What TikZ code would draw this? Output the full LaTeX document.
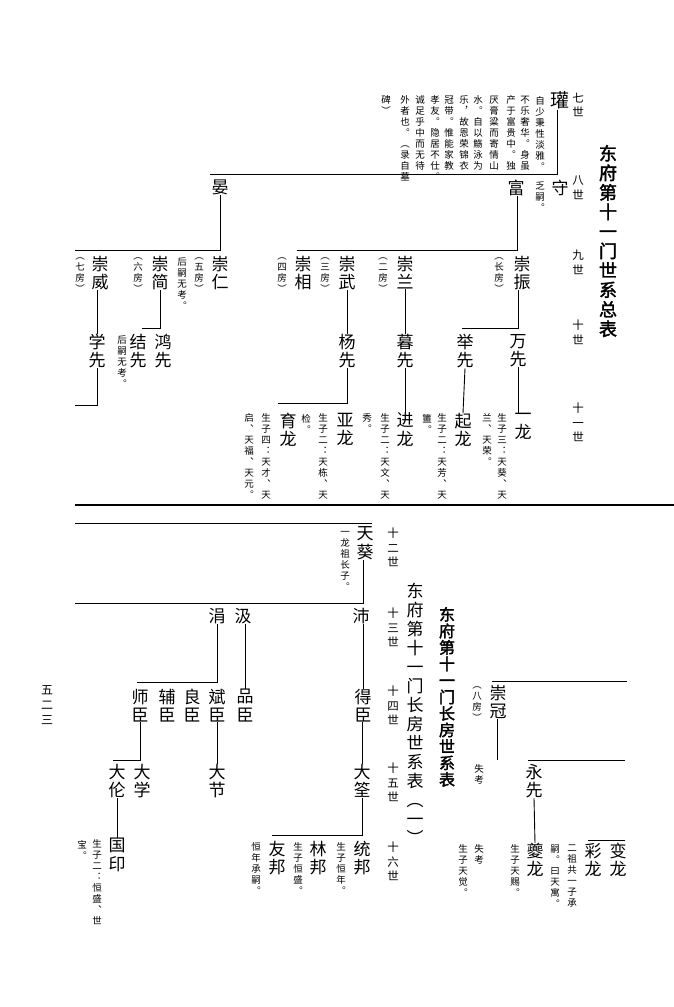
\documentclass[tikz,border=0pt]{standalone}
\usepackage{fontspec}
\setmainfont{Noto Sans CJK SC}
\newfontfamily\titlefont{Noto Sans CJK SC}[FakeBold=2]
\makeatletter
\newcommand\vstr[1]{\vbox{\@tfor\vch:=#1\do{\hbox to 1em{\hss\vch\hss}}}}
\makeatother

\tikzset{
  vcol/.style={anchor=north,inner sep=0pt,outer sep=0pt},
  big/.style={vcol,font=\fontsize{17}{18.5}\selectfont},
  note/.style={vcol,font=\fontsize{9.5}{11}\selectfont},
  gen/.style={vcol,font=\fontsize{11.5}{14.5}\selectfont},
  tree/.style={line width=0.9pt},
}

\begin{document}
\begin{tikzpicture}[x=1pt,y=-1pt]
  \useasboundingbox (0,0) rectangle (674,1007);

  % upper table
  \node[vcol,font=\titlefont\fontsize{18}{19.5}\selectfont] (title1) at (608,145) {\vstr{东府第十一门世系总表}};
  \node[gen] (g7) at (578,93) {\vstr{七世}};
  \node[gen] (g8) at (578,176) {\vstr{八世}};
  \node[gen] (g9) at (578,250) {\vstr{九世}};
  \node[gen] (g10) at (578,320) {\vstr{十世}};
  \node[gen] (g11) at (578,403) {\vstr{十一世}};

  \node[vcol,font=\fontsize{19}{20}\selectfont] (guan) at (560,92) {\vstr{瓘}};
  \node[note] (n1) at (540,96) {\vstr{自少秉性淡雅︒}};
  \node[note] (n2) at (525,96) {\vstr{不乐奢华︒身虽}};
  \node[note] (n3) at (511,96) {\vstr{产于富贵中︒独}};
  \node[note] (n4) at (494,96) {\vstr{厌膏粱而寄情山}};
  \node[note] (n5) at (478,96) {\vstr{水︒自以觞泳为}};
  \node[note] (n6) at (464,96) {\vstr{乐︐故恩荣锦衣}};
  \node[note] (n7) at (449,96) {\vstr{冠带︒惟能家教}};
  \node[note] (n8) at (435,96) {\vstr{孝友︒隐居不仕︒}};
  \node[note] (n9) at (420,96) {\vstr{诚足乎中而无待}};
  \node[note] (n10) at (405,96) {\vstr{外者也︒︵录自墓}};
  \node[note] (n11) at (386,96) {\vstr{碑︶}};

  \node[big] (shou) at (560,180) {\vstr{守}};
  \node[note] (nshou) at (540,182) {\vstr{乏嗣︒}};
  \node[big] (fu) at (516,180) {\vstr{富}};
  \node[big] (yan) at (220,180) {\vstr{晏}};

  \node[big] (czhen) at (522,256) {\vstr{崇振}};
  \node[note] (f1) at (499,258) {\vstr{︵长房︶}};
  \node[big] (clan) at (405,256) {\vstr{崇兰}};
  \node[note] (f2) at (383,258) {\vstr{︵二房︶}};
  \node[big] (cwu) at (347,256) {\vstr{崇武}};
  \node[note] (f3) at (325,258) {\vstr{︵三房︶}};
  \node[big] (cxiang) at (303,256) {\vstr{崇相}};
  \node[note] (f4) at (282,258) {\vstr{︵四房︶}};
  \node[big] (cren) at (220,256) {\vstr{崇仁}};
  \node[note] (f5) at (199,258) {\vstr{︵五房︶}};
  \node[note] (nren) at (182,258) {\vstr{后嗣无考︒}};
  \node[big] (cjian) at (160,256) {\vstr{崇简}};
  \node[note] (f6) at (138,258) {\vstr{︵六房︶}};
  \node[big] (cwei) at (100,256) {\vstr{崇威}};
  \node[note] (f7) at (80,258) {\vstr{︵七房︶}};

  \node[big] (wanx) at (518,334) {\vstr{万先}};
  \node[big] (jux) at (465,334) {\vstr{举先}};
  \node[big] (mux) at (405,334) {\vstr{暮先}};
  \node[big] (yangx) at (347,334) {\vstr{杨先}};
  \node[big] (hongx) at (163,334) {\vstr{鸿先}};
  \node[big] (jiex) at (138,334) {\vstr{结先}};
  \node[note] (njie) at (122,336) {\vstr{后嗣无考︒}};
  \node[big] (xuex) at (97,334) {\vstr{学先}};

  \node[big] (yil) at (523,413) {\vstr{一龙}};
  \node[note] (ny1) at (502,414) {\vstr{生子三︓天葵︑天}};
  \node[note] (ny2) at (487,414) {\vstr{兰︑天荣︒}};
  \node[big] (qil) at (463,413) {\vstr{起龙}};
  \node[note] (nq1) at (442,414) {\vstr{生子二︓天芳︑天}};
  \node[note] (nq2) at (427,414) {\vstr{簠︒}};
  \node[big] (jinl) at (405,413) {\vstr{进龙}};
  \node[note] (nj1) at (385,414) {\vstr{生子二︓天文︑天}};
  \node[note] (nj2) at (367,414) {\vstr{秀︒}};
  \node[big] (yal) at (345,413) {\vstr{亚龙}};
  \node[note] (na1) at (323,414) {\vstr{生子二︓天栋︑天}};
  \node[note] (na2) at (306,414) {\vstr{检︒}};
  \node[big] (yul) at (288,413) {\vstr{育龙}};
  \node[note] (nu1) at (266,414) {\vstr{生子四︓天才︑天}};
  \node[note] (nu2) at (249,414) {\vstr{启︑天福︑天元︒}};

  \coordinate (a1) at (557,174);
  \coordinate (a2) at (210,174);
  \coordinate (b1) at (517,250);
  \coordinate (b2) at (297,250);
  \coordinate (c1) at (220,250);
  \coordinate (c2) at (75,250);
  \coordinate (d1) at (518,328);
  \coordinate (d2) at (462,328);
  \coordinate (e1) at (160,328);
  \coordinate (e2) at (142,328);
  \coordinate (h1) at (97,405);
  \coordinate (h2) at (75,405);
  \coordinate (k1) at (347,403);
  \coordinate (k2) at (278,403);

  \draw[tree] (guan.south -| a1) -- (a1) -- (a2);
  \draw[tree] (fu.south -| b1) -- (b1) -- (b2);
  \draw[tree] (yan.south) -- (c1) -- (c2);
  \draw[tree] (czhen.south -| d1) -- (d1) -- (d2);
  \draw[tree] (clan.south) -- (mux.north);
  \draw[tree] (cwu.south) -- (yangx.north);
  \draw[tree] (cjian.south) -- (e1) -- (e2);
  \draw[tree] (cwei.south -| xuex) -- (xuex.north);
  \draw[tree] (xuex.south) -- (h1) -- (h2);
  \draw[tree] (wanx.south) -- (wanx.south |- yil.north);
  \draw[tree] (jux.south) -- (qil.north);
  \draw[tree] (mux.south) -- (jinl.north);
  \draw[tree] (yangx.south) -- (k1) -- (k2);

  \coordinate (sep1) at (75,505);
  \coordinate (sep2) at (674,505);
  \draw[line width=2.4pt] (sep1) -- (sep2);

  % lower table
  \node[vcol,font=\fontsize{17}{19}\selectfont] (title2) at (415,583) {\vstr{东府第十一门长房世系表︵一︶}};
  \node[vcol,font=\titlefont\fontsize{16}{16.5}\selectfont] (title3) at (447,607) {\vstr{东府第十一门长房世系表}};
  \node[gen] (g12) at (393,528) {\vstr{十二世}};
  \node[gen] (g13) at (393,608) {\vstr{十三世}};
  \node[gen] (g14) at (393,686) {\vstr{十四世}};
  \node[gen] (g15) at (393,763) {\vstr{十五世}};
  \node[gen] (g16) at (393,842) {\vstr{十六世}};

  \node[big] (tkui) at (365,527) {\vstr{天葵}};
  \node[note] (ntk) at (345,531) {\vstr{一龙祖长子︒}};
  \node[big] (pei) at (361,608) {\vstr{沛}};
  \node[big] (ji) at (243,608) {\vstr{汲}};
  \node[big] (juan) at (217,608) {\vstr{涓}};

  \node[big] (dec) at (363,689) {\vstr{得臣}};
  \node[big] (pinc) at (245,689) {\vstr{品臣}};
  \node[big] (binc) at (217,689) {\vstr{斌臣}};
  \node[big] (liangc) at (192,689) {\vstr{良臣}};
  \node[big] (fuc) at (167,689) {\vstr{辅臣}};
  \node[big] (shic) at (140,689) {\vstr{师臣}};

  \node[big] (daq) at (362,764) {\vstr{大筌}};
  \node[big] (dajie) at (217,764) {\vstr{大节}};
  \node[big] (daxue) at (142,764) {\vstr{大学}};
  \node[big] (dalun) at (117,764) {\vstr{大伦}};

  \node[big] (tongb) at (362,841) {\vstr{统邦}};
  \node[note] (ntb) at (341,843) {\vstr{生子恒年︒}};
  \node[big] (linb) at (318,841) {\vstr{林邦}};
  \node[note] (nlb) at (298,843) {\vstr{生子恒盛︒}};
  \node[big] (youb) at (277,841) {\vstr{友邦}};
  \node[note] (nyb) at (256,843) {\vstr{恒年承嗣︒}};
  \node[big] (guoy) at (117,838) {\vstr{国印}};
  \node[note] (ng1) at (97,840) {\vstr{生子二︓恒盛︑世}};
  \node[note] (ng2) at (82,840) {\vstr{宝︒}};

  \node[big] (cguan) at (498,685) {\vstr{崇冠}};
  \node[note] (f8) at (477,687) {\vstr{︵八房︶}};
  \node[note] (ncg) at (479,765) {\vstr{失考}};
  \node[big] (yongx) at (534,764) {\vstr{永先}};
  \node[big] (kuil) at (535,843) {\vstr{夔龙}};
  \node[note] (nkl) at (515,845) {\vstr{生子天赐︒}};
  \node[note] (nsk) at (479,845) {\vstr{失考}};
  \node[note] (ntj) at (463,845) {\vstr{生子天觉︒}};
  \node[big] (cail) at (593,843) {\vstr{彩龙}};
  \node[big] (bianl) at (618,843) {\vstr{变龙}};
  \node[note] (nc1) at (572,845) {\vstr{二祖共一子承}};
  \node[note] (nc2) at (555,845) {\vstr{嗣︒曰天寓︒}};

  \node[vcol,font=\fontsize{12}{15}\selectfont] (page) at (47,686) {\vstr{五二三}};

  \coordinate (l1) at (372,523);
  \coordinate (l2) at (75,523);
  \coordinate (m1) at (363,603);
  \coordinate (m2) at (75,603);
  \coordinate (p1) at (217,682);
  \coordinate (p2) at (137,682);
  \coordinate (q1) at (140,760);
  \coordinate (q2) at (113,760);
  \coordinate (r1) at (362,835);
  \coordinate (r2) at (272,835);
  \coordinate (s1) at (627,681);
  \coordinate (s2) at (492,681);
  \coordinate (t1) at (497,760);
  \coordinate (u1) at (625,760);
  \coordinate (u2) at (528,760);
  \coordinate (v1) at (625,840);
  \coordinate (v2) at (588,840);

  \draw[tree] (l1) -- (l2);
  \draw[tree] (tkui.south -| m1) -- (m1) -- (m2);
  \draw[tree] (pei.south -| dec) -- (dec.north);
  \draw[tree] (ji.south -| pinc) -- (pinc.north);
  \draw[tree] (juan.south) -- (p1) -- (p2);
  \draw[tree] (dec.south -| daq) -- (daq.north);
  \draw[tree] (binc.south) -- (dajie.north);
  \draw[tree] (shic.south) -- (q1) -- (q2);
  \draw[tree] (dalun.south) -- (guoy.north);
  \draw[tree] (daq.south) -- (r1) -- (r2);
  \draw[tree] (s1) -- (s2);
  \draw[tree] (cguan.south -| t1) -- (t1);
  \draw[tree] (u1) -- (u2);
  \draw[tree] (yongx.south) -- (kuil.north);
  \draw[tree] (v1) -- (v2);
\end{tikzpicture}
\end{document}
